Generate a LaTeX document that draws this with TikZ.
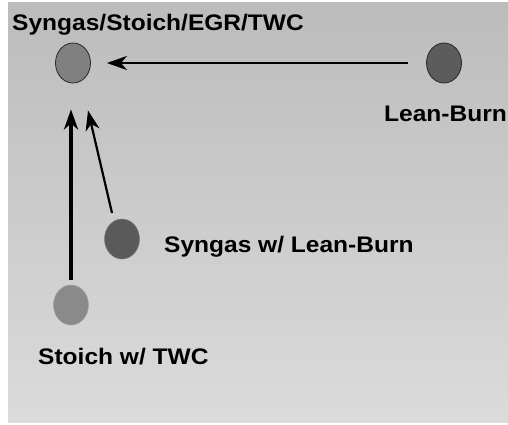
\documentclass[tikz,border=0pt]{standalone}
\usepackage{fontspec}
\setmainfont{Liberation Sans}[FakeStretch=1.09]
\usetikzlibrary{shapes.geometric,arrows.meta}
\tikzset{
  dot/.style={ellipse,inner sep=0pt,minimum width=35pt,minimum height=40pt},
  lbl/.style={anchor=base west,inner sep=0pt,font=\fontsize{22.5}{26}\selectfont\bfseries},
  arr/.style={-{Stealth[length=20pt,width=14pt,inset=6pt]},black},
}
\begin{document}
\begin{tikzpicture}[x=1pt,y=-1pt]
\useasboundingbox (0,0) rectangle (508,425);
\fill[white] (0,0) rectangle (508,425);
\shade[top color={rgb,255:red,188;green,188;blue,188},bottom color={rgb,255:red,219;green,219;blue,219}] (8,3) rectangle (508,422);
% nodes
\node[dot,fill={rgb,255:red,128;green,128;blue,128},draw={rgb,255:red,40;green,40;blue,40},line width=0.8pt] (syn) at (73,63) {};
\node[dot,fill={rgb,255:red,92;green,92;blue,92},draw={rgb,255:red,40;green,40;blue,40},line width=0.8pt] (lean) at (444,63) {};
\node[dot,fill={rgb,255:red,90;green,90;blue,90},draw={rgb,255:red,120;green,120;blue,120},line width=0.5pt] (slb) at (122,239) {};
\node[dot,fill={rgb,255:red,138;green,138;blue,138},draw={rgb,255:red,160;green,160;blue,160},line width=0.5pt] (sto) at (71,305) {};
% labels
\node[lbl] (tsyn) at (12,30.5) {Syngas/Stoich/EGR/TWC};
\node[lbl] (tlean) at (384,121.5) {Lean-Burn};
\node[lbl] (tslb) at (164,252.5) {Syngas w/ Lean-Burn};
\node[lbl] (tsto) at (38,364) {Stoich w/ TWC};
% connectors
\draw[arr,line width=2.5pt,shorten <=18pt,shorten >=16pt] (lean.west) -- (syn.east);
\draw[arr,line width=3.5pt,shorten <=5pt] (sto.north) -- ([yshift=-26pt]sto.north |- syn.south);
\coordinate (s1) at ([shift={(-10pt,26pt)}]slb.center);
\coordinate (s2) at ([shift={(15pt,-27pt)}]syn.south);
\draw[arr,line width=2.2pt] (s1) -- (s2);
\end{tikzpicture}
\end{document}
